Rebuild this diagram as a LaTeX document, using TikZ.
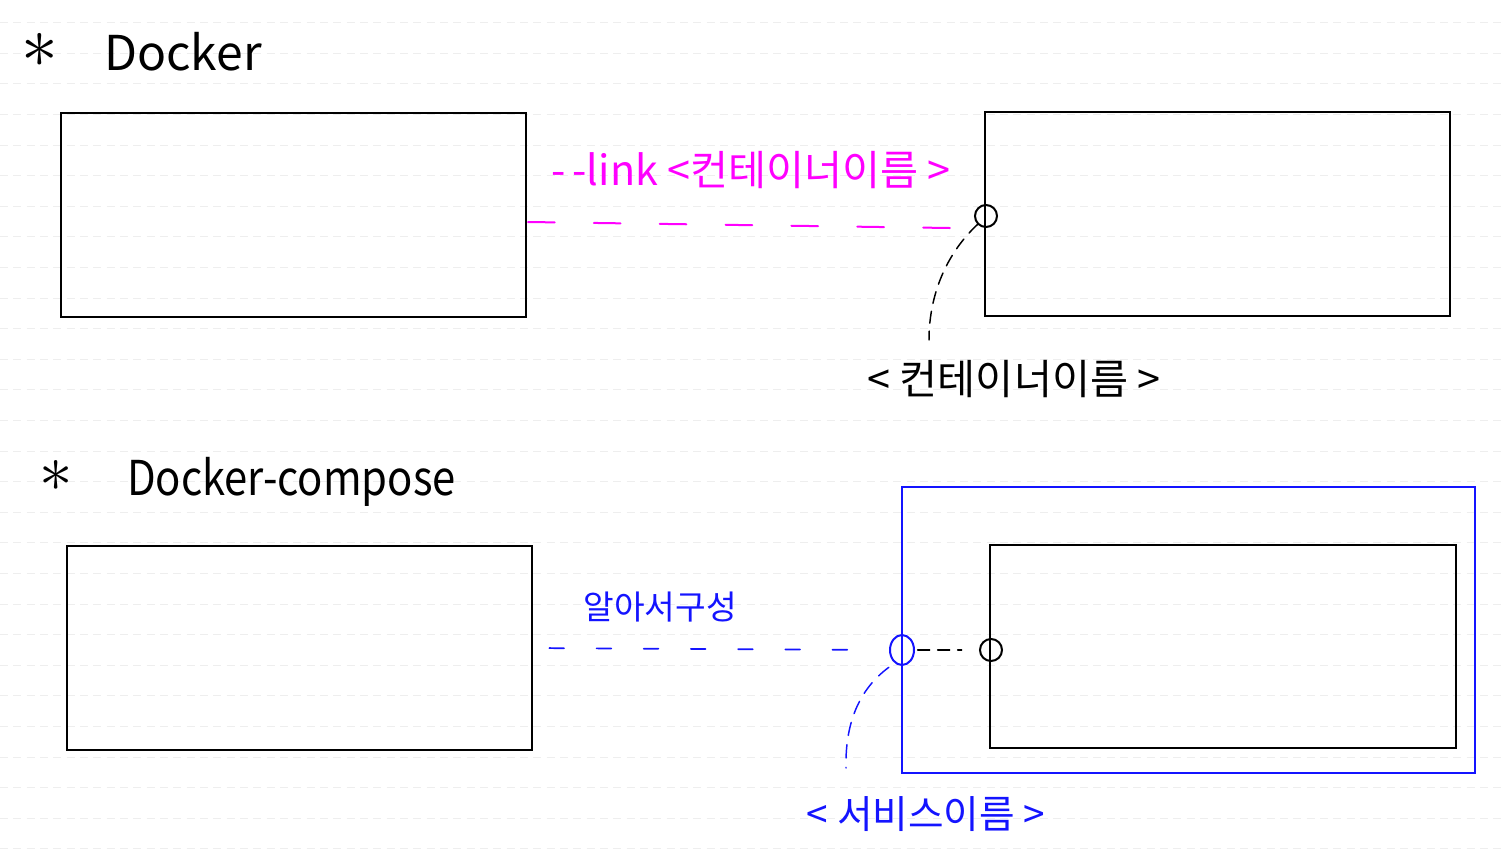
\documentclass[tikz,border=0pt]{standalone}
\usepackage{fontspec}
\setmainfont{Noto Sans CJK KR}
\usetikzlibrary{shapes.geometric}
\definecolor{mag}{RGB}{255,0,255}
\definecolor{blu}{RGB}{20,20,255}
\definecolor{rule}{RGB}{238,238,238}
\tikzset{
  box/.style={draw=black, line width=1.2pt, rectangle, inner sep=0pt, outer sep=0pt, minimum width=348.75pt, minimum height=153pt},
  bluebox/.style={draw=blu, line width=1.2pt, rectangle, inner sep=0pt, outer sep=0pt},
  port/.style={draw=black, line width=1.5pt, circle, inner sep=0pt, minimum size=16.5pt},
  bport/.style={draw=blu, line width=1.5pt, ellipse, inner sep=0pt, minimum width=18pt, minimum height=22.5pt},
  magdash/.style={draw=mag, line width=1.5pt, dash pattern=on 20pt off 29.4pt, line cap=round},
  bludash/.style={draw=blu, line width=1.3pt, dash pattern=on 11pt off 24.4pt, line cap=round},
  blkdash/.style={draw=black, line width=1.1pt, dash pattern=on 9pt off 6pt, line cap=round},
  bcurve/.style={draw=blu, line width=1.1pt, dash pattern=on 10pt off 7pt, line cap=round},
  title/.style={inner sep=0pt, anchor=west, font=\fontsize{36}{40}\selectfont},
  star/.style={inner sep=0pt, anchor=base},
  lbl/.style={inner sep=0pt, font=\fontsize{31}{34}\selectfont},
}
\begin{document}
\begin{tikzpicture}[x=0.75pt, y=-0.75pt]
\useasboundingbox (0,0) rectangle (1503,865);
\fill[white] (0,0) rectangle (1503,865);
% notebook rules
\foreach \k in {0,...,27} {
  \draw[rule, line width=0.6pt, dash pattern=on 6pt off 4pt] (0,{22.5+30.6*\k}) -- (1503,{22.5+30.6*\k});
}
% ---------- Docker ----------
\node[star] (star1) at (40,67) {\scalebox{5.5}{$\ast$}};
\node[title] (t1) at (104,52) {Docker};
\node[box] (A1) at (293.5,215) {};
\node[box] (B1) at (1217.5,214) {};
\node[port] (c1) at (986,216) {};
\node[lbl, text=mag] (l1) at (751,170) {-\,-link <컨테이너이름 >};
\coordinate (m0) at (528,222);
\coordinate (m1) at (950,228);
\draw[magdash] (m0) -- (m1);
\coordinate (e1) at (929,340);
\draw[blkdash] (c1.south west) .. controls (950,250) and (929,290) .. (e1);
\node[lbl, text=black] (l2) at (1014,379) {< 컨테이너이름 >};
% ---------- Docker-compose ----------
\node[star] (star2) at (56,491) {\scalebox{5}{$\ast$}};
\node[title] (t2) at (127,482) {\scalebox{0.87}[1]{Docker-compose}};
\node[box] (A2) at (299.5,648) {};
\node[bluebox, minimum width=429.75pt, minimum height=214.5pt] (S) at (1188.5,630) {};
\node[box, minimum width=349.5pt, minimum height=152.25pt] (B2) at (1223,646.5) {};
\node[bport] (s1) at (902,650) {};
\node[port] (c2) at (991,650) {};
\node[lbl, text=blu, font=\fontsize{25}{28}\selectfont] (l3) at (660,607) {알아서구성};
\draw[bludash, shorten <=13pt, shorten >=31pt] (A2.east) -- (s1.west);
\draw[blkdash, shorten <=2pt, shorten >=13pt] (s1.east) -- (c2.west);
\coordinate (e2) at (846,768);
\draw[bcurve] (s1.south west) ++(-4,6) .. controls (858,690) and (845,725) .. (e2);
\node[lbl, text=blu, font=\fontsize{29}{32}\selectfont] (l4) at (926,814) {< 서비스이름 >};
\end{tikzpicture}
\end{document}
